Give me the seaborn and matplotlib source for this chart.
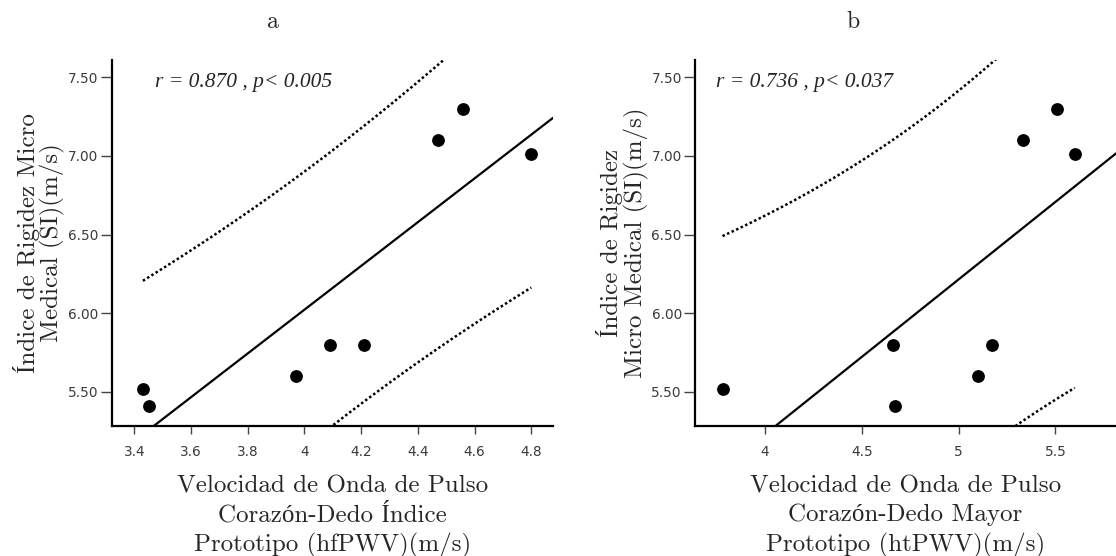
import numpy as np
import pandas as pd
import seaborn as sns
import matplotlib.pyplot as plt
from matplotlib.ticker import FixedLocator, FuncFormatter

# Measurements (one entry per subject)
si_micro_medical = [5.52, 5.41, 5.60, 5.80, 5.80, 7.10, 7.30, 7.01]
hfpwv_index = [3.43, 3.45, 3.97, 4.09, 4.21, 4.47, 4.56, 4.80]
htpwv_middle = [3.78, 4.67, 5.10, 4.66, 5.17, 5.33, 5.51, 5.60]

panel_letters = ["a", "b"]
stat_text = ["r = 0.870 , p< 0.005", "r = 0.736 , p< 0.037"]
x_titles = [
    "Velocidad de Onda de Pulso\nCorazón-Dedo Índice\nPrototipo (hfPWV)(m/s)",
    "Velocidad de Onda de Pulso\nCorazón-Dedo Mayor\nPrototipo (htPWV)(m/s)",
]
y_titles = [
    "Índice de Rigidez Micro\nMedical (SI)(m/s)",
    "Índice de Rigidez\nMicro Medical (SI)(m/s)",
]
x_ticks = [[3.4, 3.6, 3.8, 4.0, 4.2, 4.4, 4.6, 4.8], [4.0, 4.5, 5.0, 5.5]]
y_ticks = [5.50, 6.00, 6.50, 7.00, 7.50]

T_90_DF6 = 1.943  # two-sided 90% Student t quantile, 6 degrees of freedom

sns.set_style("ticks")
plt.rcParams["font.family"] = ["DejaVu Sans"]
serif = ["cmr10", "Liberation Serif"]

fig = plt.figure(figsize=(11.16, 5.56), dpi=100)
ax_a = fig.add_axes([0.1001, 0.2347, 0.3955, 0.6573])
ax_b = fig.add_axes([0.6228, 0.2347, 0.3772, 0.6573])
axes = [ax_a, ax_b]
xlims = [(3.320, 4.877), (3.638, 5.813)]
title_x = [273 / 1116, 853 / 1116]
stat_x = [155 / 1116, 716 / 1116]

df = pd.DataFrame({"si": si_micro_medical, "hf": hfpwv_index, "ht": htpwv_middle})

for i, (ax, xcol) in enumerate(zip(axes, ["hf", "ht"])):
    x = df[xcol].to_numpy()
    y = df["si"].to_numpy()
    ax.set_xlim(*xlims[i])
    ax.set_ylim(5.285, 7.610)

    # fitted line over the full axis
    sns.regplot(data=df, x=xcol, y="si", ax=ax, ci=None, truncate=False,
                scatter=False, line_kws=dict(color="black", lw=1.6))

    # 90% prediction band for individual values
    n = len(x)
    slope, intercept = np.polyfit(x, y, 1)
    resid = y - (slope * x + intercept)
    s = np.sqrt(np.sum(resid ** 2) / (n - 2))
    sxx = np.sum((x - x.mean()) ** 2)
    xg = np.linspace(x.min(), x.max(), 200)
    half = T_90_DF6 * s * np.sqrt(1 + 1 / n + (xg - x.mean()) ** 2 / sxx)
    fit = slope * xg + intercept
    for band in (fit + half, fit - half):
        ax.plot(xg, band, color="black", lw=1.8, linestyle=(0, (1, 1)))

    sns.scatterplot(data=df, x=xcol, y="si", ax=ax, color="black", s=85,
                    edgecolor="black", linewidth=0, zorder=5)

    ax.xaxis.set_major_locator(FixedLocator(x_ticks[i]))
    ax.yaxis.set_major_locator(FixedLocator(y_ticks))
    ax.xaxis.set_major_formatter(FuncFormatter(lambda v, p: f"{v:g}"))
    ax.yaxis.set_major_formatter(FuncFormatter(lambda v, p: f"{v:.2f}"))
    ax.tick_params(axis="x", length=6, width=1, color="#444444", pad=8,
                   labelsize=9.8, labelcolor="#3a3a3a")
    ax.tick_params(axis="y", length=8, width=1, color="#444444", pad=1.5,
                   labelsize=9.8, labelcolor="#3a3a3a")
    for side in ("top", "right"):
        ax.spines[side].set_visible(False)
    for side in ("left", "bottom"):
        ax.spines[side].set_linewidth(1.6)
        ax.spines[side].set_color("black")

    ax.set_xlabel(x_titles[i], family=serif, fontsize=18, linespacing=1.35,
                  labelpad=12)
    ax.set_ylabel(y_titles[i], family=serif, fontsize=18, linespacing=1.0,
                  labelpad=2)
    ax.text(stat_x[i], 1 - 82 / 556, stat_text[i],
            transform=fig.transFigure, family=["Liberation Serif"],
            style="italic", fontsize=15.5, va="center", ha="left")
    fig.text(title_x[i], 1 - 22 / 556, panel_letters[i], family=serif,
             fontsize=17, ha="center", va="center")

fig.savefig("out.png", dpi=100)
